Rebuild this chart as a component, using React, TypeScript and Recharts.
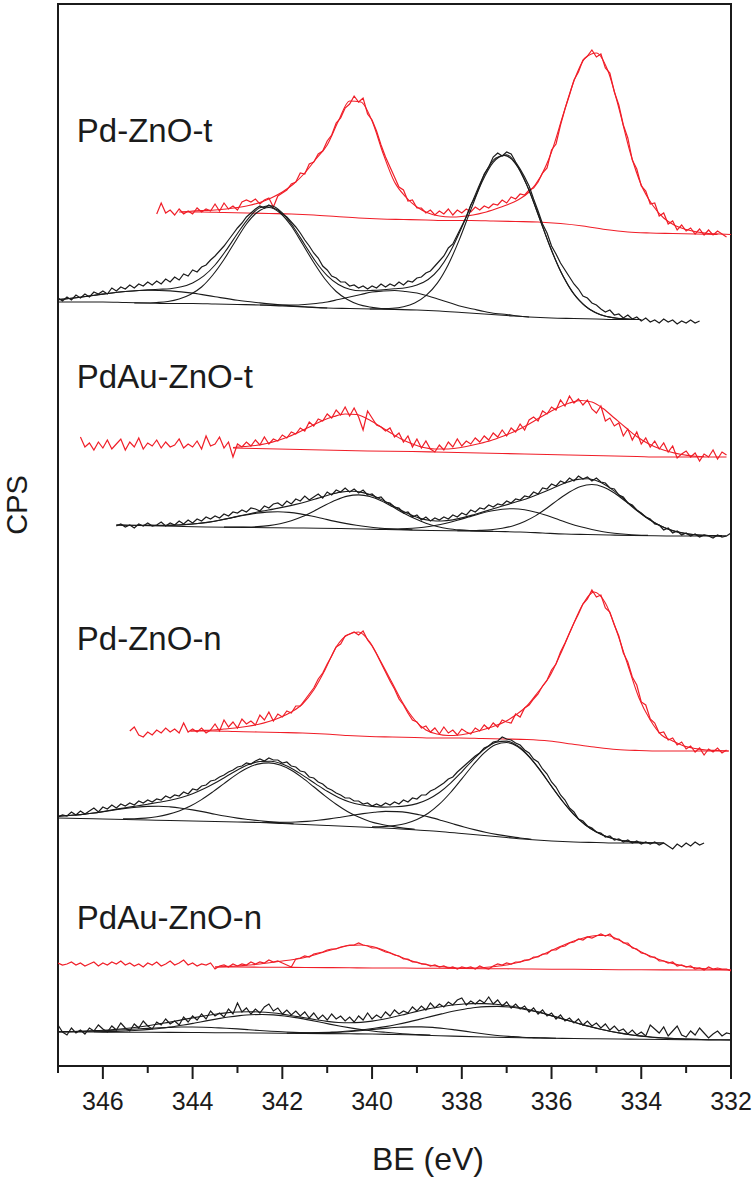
import {
    LineChart,
    Line,
    XAxis,
    YAxis,
    ReferenceArea,
    ReferenceDot,
    Label,
} from "recharts";

const RED = "#f01e28";
const INK = "#1b1b1b";
const FONT = "'Liberation Sans', Arial, Helvetica, sans-serif";

// CPS values are arbitrary offsets (stacked spectra).
// Each array runs from its start BE downwards in fixed steps.

// ---- Pd-ZnO-t ----
const ptRedRaw = [
    852, 863, 853, 856, 851, 857, 852, 855, 852, 858,
    854, 857, 855, 862, 855, 863, 857, 860, 856, 864,
    866, 864, 867, 862, 866, 868, 859, 870, 873, 876,
    882, 884, 893, 892, 902, 904, 912, 915, 925, 931,
    943, 948, 958, 962, 970, 964, 968, 952, 946, 935,
    921, 909, 899, 889, 879, 876, 865, 866, 858, 858,
    853, 856, 851, 855, 852, 857, 851, 856, 853, 857,
    854, 859, 856, 860, 858, 862, 861, 866, 863, 869,
    867, 872, 871, 876, 878, 884, 893, 898, 916, 922,
    941, 957, 971, 986, 994, 1006, 1010, 1016, 1009, 1012,
    998, 993, 974, 961, 941, 928, 906, 897, 880, 875,
    862, 863, 850, 853, 842, 845, 836, 841, 835, 838,
    832, 837, 831, 836, 831, 835, 832, 829,
];
const ptRedFit = [
    854, 855, 855.5, 856, 857, 858.5, 860.5, 863.5, 868, 874,
    882, 893, 907, 921, 945, 965, 964, 945, 912, 884,
    869, 859, 853, 850, 849, 849.5, 851, 853.5, 857, 861,
    866, 874, 889, 914, 950, 985, 1008, 1013, 996, 958,
    914, 881, 861, 848, 840.5, 836.5, 834, 832.5, 832, 831.5,
];
const ptRedBg = [
    854, 854, 853.5, 853, 852.5, 852, 851, 849.5, 848, 847, 846.5, 846, 845.5,
    845.5, 845, 844.5, 844, 842.5, 840, 836.5, 834, 833, 832.5, 832, 831.5,
];
const ptBlackRaw = [
    768, 765, 769, 766, 771, 768, 772, 769, 774, 772,
    775, 772, 778, 775, 779, 777, 781, 778, 782, 780,
    784, 781, 785, 782, 787, 784, 789, 786, 792, 790,
    796, 794, 799, 801, 806, 810, 815, 820, 826, 832,
    838, 843, 849, 853, 857, 860, 858, 861, 858, 856,
    852, 849, 844, 839, 833, 826, 820, 813, 808, 800,
    796, 790, 788, 784, 784, 780, 781, 778, 780, 777,
    780, 778, 782, 779, 782, 780, 784, 781, 785, 784,
    788, 789, 793, 795, 800, 805, 810, 818, 822, 831,
    840, 849, 861, 869, 880, 892, 899, 909, 913, 910,
    914, 912, 904, 897, 889, 880, 867, 855, 842, 833,
    820, 812, 803, 796, 789, 782, 777, 770, 768, 763,
    761, 757, 754, 756, 751, 752, 748, 751, 747, 749,
    745, 748, 744, 746, 743, 747, 744, 746, 742, 745,
    743, 746, 743, 745,
];
const ptBlackFit = [
    766.4, 767.5, 768.8, 770.3, 771.9, 773.3, 774.5, 775.3, 776.1, 776.7,
    777.3, 779.2, 783.1, 790.1, 801, 815.9, 832.5, 847.9, 858.3, 860.2,
    853.1, 838.8, 821.3, 804, 790.4, 781.5, 776.8, 775.2, 775.6, 776.3,
    777.2, 778.2, 781, 786.5, 797.4, 814.9, 838.7, 865.9, 891.2, 907.7,
    911.3, 899.2, 875.6, 845.5, 815.7, 790.4, 772, 760, 752.9, 749.4,
    747.5, 746.8, 746.5,
];
const ptBlackBg = [
    764, 764, 764, 763.5, 763, 762.5, 762.5, 762, 761.5, 761, 760, 759, 758, 757.5,
    757, 756.5, 756, 755, 753.5, 752, 750.5, 749, 748, 747.5, 747, 746.5, 746.5,
];
const ptPeak1 = [766.4, 768.8, 771.9, 774.5, 775.8, 775.1, 772.9, 769.2, 765.7, 763.1, 760.9, 759.3, 758];
const ptPeak2 = [
    763, 763, 763.5, 764.5, 767, 771.5, 779, 791, 806.5, 824.5, 842, 854, 858.5,
    853, 840, 822, 803.5, 787, 774.5, 766.5, 761.5, 759, 757.5, 757, 756.5,
];
const ptPeak3 = [
    761, 761, 761, 761, 761.5, 762.5, 764, 766.5, 769, 771.5, 774, 775, 775.5,
    774.5, 773, 770, 766.5, 763, 759.5, 757, 754.5, 752.5, 751.5, 750, 749,
];
const ptPeak4 = [
    757, 757.3, 757.7, 759.3, 763, 770.3, 782.6, 801.6, 826.9, 856.1, 883.9, 903.6, 910.6,
    902.2, 880.9, 851.8, 821.3, 794.9, 774.9, 761.9, 754, 749.8, 747.8, 747, 746.5,
];

// ---- PdAu-ZnO-t ----
const paRedRaw = [
    629, 619, 623, 616, 624, 618, 626, 617, 622, 627,
    616, 624, 619, 628, 617, 623, 620, 626, 618, 624,
    619, 621, 627, 618, 622, 619, 625, 617, 630, 620,
    622, 629, 618, 624, 609, 622, 619, 624, 620, 626,
    621, 629, 622, 627, 625, 631, 628, 634, 632, 638,
    635, 644, 640, 647, 645, 652, 648, 656, 651, 659,
    650, 658, 649, 636, 655, 648, 641, 639, 635, 638,
    629, 633, 624, 630, 619, 627, 618, 625, 617, 614,
    621, 616, 624, 619, 627, 620, 625, 622, 628, 624,
    630, 626, 633, 629, 636, 630, 638, 634, 642, 636,
    646, 649, 645, 655, 652, 659, 656, 666, 660, 670,
    663, 667, 661, 666, 657, 653, 660, 645, 648, 640,
    643, 630, 637, 626, 634, 622, 628, 619, 625, 617,
    623, 614, 620, 608, 612, 615, 609, 613, 605, 612,
    609, 616, 607, 614, 611,
];
const paRedFit = [
    618.5, 619.5, 620.5, 622.5, 625.5, 629.5, 634.5, 640, 645.5, 649.5,
    652, 651.5, 647, 640.5, 633.5, 627, 622, 618.5, 617, 617,
    618, 620, 622.5, 625.5, 629.5, 634, 639.5, 646, 652.5, 658.5,
    663, 665.5, 664, 657.5, 648, 638.5, 629.5, 622.5, 617.5, 614,
    611.5, 610, 609.5,
];
const paRedBg = [
    618, 617.5, 617, 616.5, 616, 615.5, 615, 614.8, 614.5, 614, 613.5, 613,
    612.5, 612, 611.5, 611, 610.5, 610, 609.5, 609, 609, 609, 609,
];
const paBlackRaw = [
    540, 542, 539, 541, 538, 542, 540, 543, 540, 541,
    544, 540, 543, 541, 545, 542, 546, 543, 547, 545,
    549, 547, 550, 548, 552, 550, 554, 553, 556, 554,
    558, 557, 555, 560, 558, 562, 563, 560, 565, 562,
    567, 565, 570, 566, 569, 572, 568, 574, 571, 576,
    574, 578, 574, 577, 573, 576, 571, 572, 568, 569,
    564, 563, 559, 558, 553, 554, 549, 551, 546, 549,
    545, 548, 546, 549, 547, 551, 549, 553, 551, 556,
    554, 558, 557, 561, 559, 562, 561, 565, 563, 567,
    566, 570, 569, 574, 572, 578, 577, 582, 580, 585,
    583, 588, 585, 590, 587, 589, 585, 588, 584, 583,
    578, 577, 571, 569, 563, 561, 556, 553, 549, 547,
    542, 541, 536, 538, 533, 535, 531, 533, 530, 532,
    529, 531, 530, 528, 531, 529, 530, 533,
];
const paBlackFit = [
    541, 540.8, 540.6, 540.6, 540.5, 540.8, 541.3, 542.2, 543.4, 545.3,
    547.6, 550.2, 552.5, 554.9, 556.9, 559.1, 561.6, 564.5, 567.9, 571.3,
    573.9, 574.8, 573.4, 569.8, 564.3, 558.1, 552.4, 547.9, 545.5, 545,
    546.1, 548.6, 551.8, 555.1, 558.5, 561.9, 565.2, 569, 573.4, 578.3,
    582.9, 586.4, 587.2, 584.4, 578.1, 569.5, 559.8, 550.7, 543.3, 537.7,
    534.1, 532, 530.9, 530.4, 530.1,
];
const paBlackBg = [
    541, 540.5, 540, 539.5, 539, 538.8, 538.5, 538.2, 538, 537.8, 537.5, 537, 536.5, 536,
    535.5, 535.2, 535, 534.5, 534, 533, 532, 531.5, 531, 530.5, 530.2, 530, 530, 530,
];
const paPeak1 = [
    540.6, 540.6, 540.6, 541, 541.6, 542.7, 544.2, 546.2, 548.5, 550.7, 552.6, 553.9, 554.2,
    553.6, 552.1, 550, 547.5, 544.9, 542.6, 540.7, 539.2, 538, 537.1, 536.6, 536.2,
];
const paPeak2 = [
    538.9, 538.9, 539, 539.4, 540.4, 542.3, 545.2, 549.4, 554.8, 560.8, 566.1, 569.9, 571.1,
    569.5, 565.2, 559.4, 553, 547.4, 542.8, 539.5, 537.3, 536.1, 535.4, 534.9, 534.6,
];
const paPeak3 = [
    537, 536.9, 537.2, 537.8, 538.8, 540.5, 542.8, 545.7, 549, 552.3, 555, 556.8, 557.3,
    556.3, 553.8, 550.4, 546.5, 542.5, 539.2, 536.5, 534.3, 532.8, 531.7, 530.9, 530.6,
];
const paPeak4 = [
    535.3, 535.3, 535.6, 536.2, 537.7, 540.3, 544.6, 550.4, 558, 566.4, 574, 579.6, 581.5,
    579.1, 573, 564.6, 555.4, 547.2, 540.8, 536.1, 533.2, 531.5, 530.7, 530.3, 530.1,
];

// ---- Pd-ZnO-n ----
const pnRedRaw = [
    335, 339, 331, 329, 334, 331, 336, 333, 338, 334,
    337, 333, 343, 334, 337, 334, 338, 333, 336, 342,
    335, 346, 339, 344, 338, 347, 342, 345, 341, 351,
    346, 354, 345, 352, 349, 355, 353, 360, 360, 366,
    372, 378, 387, 393, 402, 410, 419, 422, 430, 432,
    434, 431, 435, 426, 420, 412, 403, 394, 385, 377,
    367, 361, 353, 346, 344, 338, 340, 334, 338, 332,
    339, 333, 336, 331, 337, 334, 332, 338, 335, 341,
    337, 343, 339, 346, 344, 343, 352, 349, 358, 361,
    367, 372, 380, 386, 396, 402, 414, 423, 433, 443,
    452, 462, 467, 476, 469, 471, 458, 454, 441, 430,
    413, 404, 389, 381, 364, 361, 347, 343, 333, 334,
    326, 328, 321, 324, 317, 320, 314, 318, 311, 317,
    314, 318, 313, 316,
];
const pnRedFit = [
    335, 335.5, 336, 337, 338, 339.5, 341.5, 344.5, 348.5, 354,
    362, 376, 396, 419, 431, 434, 424, 404, 383, 362,
    346, 336, 332, 330.5, 331, 333, 336, 339.5, 344, 351,
    360, 374, 389, 412, 438, 462, 474, 463, 435, 401,
    368, 346, 331, 325, 320, 317.5, 316, 315.5, 315,
];
const pnRedBg = [
    335, 335, 334.5, 334, 333.5, 333, 332, 330.5, 329.5, 329, 328.5, 328, 328,
    327.5, 327, 326.5, 325, 322, 319, 316.5, 315.5, 315, 315, 315, 315,
];
const pnBlackRaw = [
    249, 251, 250, 254, 251, 255, 252, 255, 258, 254,
    259, 257, 261, 258, 262, 260, 263, 261, 265, 263,
    266, 264, 267, 266, 270, 268, 271, 270, 274, 272,
    277, 276, 280, 281, 285, 286, 289, 291, 294, 296,
    299, 300, 303, 302, 305, 307, 305, 308, 306, 306,
    303, 304, 300, 299, 295, 294, 289, 288, 284, 282,
    278, 276, 273, 271, 268, 268, 265, 265, 262, 263,
    260, 262, 260, 263, 261, 264, 262, 266, 264, 268,
    267, 271, 271, 275, 277, 280, 283, 287, 289, 294,
    298, 302, 306, 310, 313, 318, 320, 324, 325, 329,
    327, 326, 323, 321, 316, 313, 307, 304, 297, 292,
    284, 279, 271, 266, 258, 254, 247, 245, 240, 238,
    234, 233, 229, 230, 226, 227, 224, 226, 223, 225,
    222, 224, 222, 224, 221, 223, 220, 217, 222, 219,
    223, 220, 224, 221, 223,
];
const pnBlackFit = [
    249.7, 250.5, 251.4, 252.7, 254.4, 256.4, 258.2, 260, 261.8, 263.7,
    265.8, 268.5, 272.3, 277.2, 283, 289.5, 296, 301.4, 304.5, 304.8,
    301.9, 296.5, 289.4, 281.9, 274.7, 268.6, 264.1, 261.3, 259.6, 258.9,
    259.2, 260.1, 262.4, 266.8, 273.5, 282.9, 294.2, 306.2, 316.7, 323.6,
    324.9, 320.1, 309.7, 295.6, 279.7, 264.5, 251.3, 241.2, 233.9, 228.9,
    226, 224.4, 223.6, 223.2, 223,
];
const pnBlackBg = [
    248, 247.5, 247, 246.5, 246, 245.5, 245, 244.5, 244, 243.5, 242.5, 241.5, 240.5, 239.5,
    238.5, 237.5, 236, 234.5, 232.5, 230.5, 228.5, 226.5, 225, 224, 223.5, 223, 223, 223,
];
const pnPeak1 = [
    249.7, 250.5, 251.4, 252.7, 254.3, 256.1, 257.6, 258.8, 259.6, 259.8, 259.1,
    257.8, 256.1, 254.1, 251.8, 249.7, 247.9, 246.5, 245.2, 244.1, 243.1, 242.3,
];
const pnPeak2 = [
    247.1, 247.3, 247.9, 249.3, 251.6, 255.1, 260, 266.4, 274.1, 282.4, 290.6, 297.4, 301.9, 303.1,
    300.9, 295.7, 288.1, 279.2, 270.1, 261.7, 254.5, 248.9, 244.6, 241.7, 239.6, 237.9, 236.7,
];
const pnPeak3 = [
    243.8, 243.6, 243.7, 244, 244.6, 245.7, 247.1, 248.8, 250.6, 252.4, 253.7, 254.6, 254.4,
    253.4, 251.2, 248.6, 245.5, 242.2, 239, 236.1, 233.5, 231.4, 229.6, 228, 226.8,
];
const pnPeak4 = [
    239.1, 239.4, 240.5, 242.5, 246.4, 252.7, 261.8, 273.5, 287.1, 301, 313.2, 321.3, 323.5,
    319.3, 309.2, 295.3, 279.6, 264.5, 251.3, 241.2, 233.9, 228.9, 226, 224.4, 223.6,
];

// ---- PdAu-ZnO-n ----
const panRedRaw = [
    103, 101, 102, 104, 101, 103, 100, 102, 104, 100,
    103, 101, 104, 102, 105, 101, 103, 100, 102, 99,
    103, 101, 104, 100, 102, 105, 101, 103, 106, 101,
    103, 100, 102, 101, 103, 97, 100, 101, 99, 102,
    100, 102, 101, 104, 102, 104, 103, 106, 104, 105,
    103, 101, 99, 107, 108, 110, 109, 112, 113, 114,
    116, 117, 117, 119, 120, 121, 121, 123, 121, 120,
    118, 118, 116, 114, 113, 111, 110, 107, 107, 104,
    104, 102, 102, 100, 101, 99, 100, 98, 99, 97,
    99, 98, 99, 97, 100, 98, 97, 100, 102, 101,
    103, 102, 104, 104, 106, 106, 109, 109, 112, 112,
    116, 116, 119, 120, 123, 124, 127, 126, 129, 128,
    130, 132, 130, 132, 127, 127, 123, 123, 118, 117,
    113, 112, 109, 109, 105, 105, 103, 104, 100, 101,
    99, 100, 97, 98, 96, 99, 97, 98, 97, 97,
    95,
];
const panRedFit = [
    99, 99.5, 100, 101, 102, 103.5, 105, 106.5, 108.5, 111.5,
    115, 118, 120.5, 121, 119.5, 116, 111.5, 107, 103.5, 101,
    99.5, 98.5, 98, 98, 98.5, 99.5, 101, 103.5, 106.5, 110.5,
    115.5, 120.5, 125, 128.5, 130.5, 130.5, 126, 120, 114, 109,
    105, 102, 99.5, 98, 97, 96.5, 96,
];
const panRedBg = [
    99, 99, 98.8, 98.7, 98.5, 98.4, 98.2, 98, 98, 97.8, 97.7, 97.5,
    97.3, 97.2, 97, 96.8, 96.7, 96.5, 96.3, 96.2, 96.1, 96, 96, 96,
];
const panBlackRaw = [
    41, 34, 31, 38, 33, 36, 32, 38, 35, 41,
    37, 34, 40, 36, 43, 38, 35, 42, 38, 45,
    40, 37, 44, 41, 47, 42, 45, 41, 49, 44,
    50, 46, 52, 47, 55, 50, 53, 49, 57, 52,
    63, 54, 58, 52, 57, 53, 59, 62, 55, 58,
    52, 56, 51, 55, 50, 54, 48, 53, 47, 51,
    46, 52, 47, 50, 45, 49, 44, 50, 46, 53,
    47, 51, 48, 54, 50, 56, 52, 55, 53, 59,
    55, 60, 56, 63, 58, 62, 59, 64, 61, 66,
    68, 61, 65, 62, 66, 63, 69, 62, 66, 60,
    64, 58, 62, 57, 60, 54, 58, 52, 56, 50,
    53, 47, 51, 45, 48, 43, 47, 41, 45, 40,
    43, 38, 42, 36, 40, 35, 37, 32, 36, 31,
    34, 30, 41, 37, 33, 39, 30, 35, 40, 31,
    29, 35, 31, 38, 33, 28, 32, 35, 30, 33,
    32,
];
const panBlackFit = [
    34.2, 34.5, 34.7, 35.2, 35.7, 36.5, 37.5, 38.8, 40.3, 42.1,
    43.9, 46.1, 48.1, 50, 51.7, 53.1, 54, 54.3, 54, 53.2,
    51.9, 50, 48.2, 46.3, 44.6, 43.5, 43.2, 43.6, 44.9, 46.8,
    49.2, 51.9, 54.6, 57.1, 59, 60.8, 61.8, 62.4, 62.4, 61.8,
    60.5, 58.7, 56.3, 53.6, 50.4, 47.1, 43.8, 40.6, 37.8, 35.3,
    33.1, 31.3, 29.9, 28.8, 28, 27.4, 26.9, 26.6, 26.3, 26.2,
    26.1,
];
const panBlackBg = [
    34, 34, 33.9, 33.8, 33.7, 33.6, 33.5, 33.3, 33.2, 33, 32.8, 32.6, 32.4, 32.2, 32, 31.5,
    31, 30.3, 29.6, 29, 28.5, 28.1, 27.8, 27.5, 27.2, 27, 26.7, 26.5, 26.3, 26.1, 26,
];
const panPeak1 = [
    34.2, 34.4, 34.6, 34.9, 35.3, 35.8, 36.3, 37, 37.6, 38.2, 38.6, 39, 39,
    38.8, 38.3, 37.8, 37.1, 36.3, 35.5, 34.8, 34.2, 33.6, 33.2, 32.9, 32.6,
];
const panPeak2 = [
    34.3, 34.4, 34.6, 35.1, 35.7, 36.6, 37.7, 39.3, 41, 43, 45.1, 47.1, 49, 50.4, 51.3, 51.5,
    51.1, 50, 48.4, 46.4, 44.2, 41.9, 39.8, 37.9, 36.2, 34.8, 33.7, 32.7, 31.9, 31.4, 30.9,
];
const panPeak3 = [
    32.9, 32.9, 33, 33.1, 33.5, 34, 34.8, 35.8, 36.9, 37.9, 38.7, 39.1, 39.1,
    38.6, 37.5, 36.1, 34.6, 33, 31.5, 30.3, 29.5, 28.8, 28.4, 28.1, 27.8,
];
const panPeak4 = [
    33, 33.2, 33.4, 33.8, 34.3, 35.2, 36.3, 37.7, 39.4, 41.5, 43.9, 46.6, 49.4, 52.1, 54.7,
    56.8, 58.5, 59.4, 59.6, 59, 57.5, 55.3, 52.7, 49.6, 46.4, 43.2, 40, 37.3, 34.8, 32.8,
    31, 29.7, 28.6, 27.9, 27.3, 26.9, 26.5,
];

const xTicks = [347, 346, 345, 344, 343, 342, 341, 340, 339, 338, 337, 336, 335, 334, 333, 332];

const sampleNames = ["Pd-ZnO-t", "PdAu-ZnO-t", "Pd-ZnO-n", "PdAu-ZnO-n"];
const sampleNameY = [924, 678, 416, 137];

type Pt = { be: number; cps: number };

const toPoints = (start: number, step: number, values: number[]): Pt[] =>
    values.map((cps, i) => ({ be: Math.round((start - i * step) * 100) / 100, cps }));

type Trace = {
    id: string;
    start: number;
    step: number;
    values: number[];
    color: string;
    raw?: boolean;
};

const traces: Trace[] = [
    { id: "ptRedBg", start: 344.3, step: 0.5, values: ptRedBg, color: RED },
    { id: "ptRedFit", start: 344.25, step: 0.25, values: ptRedFit, color: RED },
    { id: "ptRedRaw", start: 344.8, step: 0.1, values: ptRedRaw, color: RED, raw: true },
    { id: "paRedBg", start: 343.1, step: 0.5, values: paRedBg, color: RED },
    { id: "paRedFit", start: 343.1, step: 0.25, values: paRedFit, color: RED },
    { id: "paRedRaw", start: 346.5, step: 0.1, values: paRedRaw, color: RED, raw: true },
    { id: "pnRedBg", start: 344.05, step: 0.5, values: pnRedBg, color: RED },
    { id: "pnRedFit", start: 344.05, step: 0.25, values: pnRedFit, color: RED },
    { id: "pnRedRaw", start: 345.4, step: 0.1, values: pnRedRaw, color: RED, raw: true },
    { id: "panRedBg", start: 343.5, step: 0.5, values: panRedBg, color: RED },
    { id: "panRedFit", start: 343.5, step: 0.25, values: panRedFit, color: RED },
    { id: "panRedRaw", start: 347, step: 0.1, values: panRedRaw, color: RED, raw: true },

    { id: "ptBlackBg", start: 347, step: 0.5, values: ptBlackBg, color: INK },
    { id: "ptPeak1", start: 347, step: 0.5, values: ptPeak1, color: INK },
    { id: "ptPeak2", start: 345.3, step: 0.25, values: ptPeak2, color: INK },
    { id: "ptPeak3", start: 342.5, step: 0.25, values: ptPeak3, color: INK },
    { id: "ptPeak4", start: 340.05, step: 0.25, values: ptPeak4, color: INK },
    { id: "ptBlackFit", start: 347, step: 0.25, values: ptBlackFit, color: INK },
    { id: "ptBlackRaw", start: 347, step: 0.1, values: ptBlackRaw, color: INK, raw: true },
    { id: "paBlackBg", start: 345.7, step: 0.5, values: paBlackBg, color: INK },
    { id: "paPeak1", start: 345.1, step: 0.25, values: paPeak1, color: INK },
    { id: "paPeak2", start: 343.3, step: 0.25, values: paPeak2, color: INK },
    { id: "paPeak3", start: 339.85, step: 0.25, values: paPeak3, color: INK },
    { id: "paPeak4", start: 338.1, step: 0.25, values: paPeak4, color: INK },
    { id: "paBlackFit", start: 345.7, step: 0.25, values: paBlackFit, color: INK },
    { id: "paBlackRaw", start: 345.7, step: 0.1, values: paBlackRaw, color: INK, raw: true },
    { id: "pnBlackBg", start: 347, step: 0.5, values: pnBlackBg, color: INK },
    { id: "pnPeak1", start: 347, step: 0.25, values: pnPeak1, color: INK },
    { id: "pnPeak2", start: 345.55, step: 0.25, values: pnPeak2, color: INK },
    { id: "pnPeak3", start: 342.45, step: 0.25, values: pnPeak3, color: INK },
    { id: "pnPeak4", start: 340, step: 0.25, values: pnPeak4, color: INK },
    { id: "pnBlackFit", start: 347, step: 0.25, values: pnBlackFit, color: INK },
    { id: "pnBlackRaw", start: 347, step: 0.1, values: pnBlackRaw, color: INK, raw: true },
    { id: "panBlackBg", start: 347, step: 0.5, values: panBlackBg, color: INK },
    { id: "panPeak1", start: 347, step: 0.25, values: panPeak1, color: INK },
    { id: "panPeak2", start: 346.2, step: 0.25, values: panPeak2, color: INK },
    { id: "panPeak3", start: 341.9, step: 0.25, values: panPeak3, color: INK },
    { id: "panPeak4", start: 341.7, step: 0.25, values: panPeak4, color: INK },
    { id: "panBlackFit", start: 347, step: 0.25, values: panBlackFit, color: INK },
    { id: "panBlackRaw", start: 347, step: 0.1, values: panBlackRaw, color: INK, raw: true },
];

function BeTick(props: any) {
    const { x, y, payload } = props;
    const major = payload.value % 2 === 0;
    return (
        <g>
            <line x1={x} y1={y} x2={x} y2={y + (major ? 13 : 7)} stroke={INK} strokeWidth={2} />
            {major && (
                <text x={x} y={y + 44} textAnchor="middle" fontSize={25} fontFamily={FONT} fill={INK}>
                    {payload.value}
                </text>
            )}
        </g>
    );
}

export default function App() {
    return (
        <div style={{ position: "absolute", left: 0, top: 0, background: "#fff" }}>
            <LineChart width={755} height={1179} margin={{ top: 4, right: 24, bottom: 0, left: 0 }}>
                <ReferenceArea
                    x1={347}
                    x2={332}
                    y1={0}
                    y2={1062}
                    fill="none"
                    stroke={INK}
                    strokeWidth={2}
                />
                <XAxis
                    dataKey="be"
                    type="number"
                    domain={[332, 347]}
                    reversed
                    allowDataOverflow
                    ticks={xTicks}
                    interval={0}
                    tick={<BeTick />}
                    tickLine={false}
                    tickSize={0}
                    tickMargin={0}
                    height={113}
                    axisLine={{ stroke: INK, strokeWidth: 2 }}
                    label={
                        <Label
                            content={() => (
                                <text x={428} y={1170} textAnchor="middle" fontSize={32} fontFamily={FONT} fill={INK}>
                                    BE (eV)
                                </text>
                            )}
                        />
                    }
                />
                <YAxis
                    type="number"
                    domain={[0, 1062]}
                    allowDataOverflow
                    width={58}
                    tick={false}
                    tickLine={false}
                    axisLine={false}
                    label={
                        <Label
                            content={() => (
                                <text
                                    x={17}
                                    y={505}
                                    transform="rotate(-90 17 505)"
                                    textAnchor="middle"
                                    dominantBaseline="central"
                                    fontSize={29}
                                    fontFamily={FONT}
                                    fill={INK}
                                >
                                    CPS
                                </text>
                            )}
                        />
                    }
                />
                {traces.map((t) => (
                    <Line
                        key={t.id}
                        data={toPoints(t.start, t.step, t.values)}
                        dataKey="cps"
                        type={t.raw ? "linear" : "monotone"}
                        stroke={t.color}
                        strokeWidth={t.raw ? 1.2 : 1.1}
                        dot={false}
                        activeDot={false}
                        isAnimationActive={false}
                    />
                ))}
                {sampleNames.map((name, i) => (
                    <ReferenceDot
                        key={name}
                        x={346.58}
                        y={sampleNameY[i]}
                        r={0}
                        ifOverflow="visible"
                        shape={(p: any) => (
                            <text x={p.cx} y={p.cy} fontSize={33} fontFamily={FONT} fill={INK}>
                                {name}
                            </text>
                        )}
                    />
                ))}
            </LineChart>
        </div>
    );
}
